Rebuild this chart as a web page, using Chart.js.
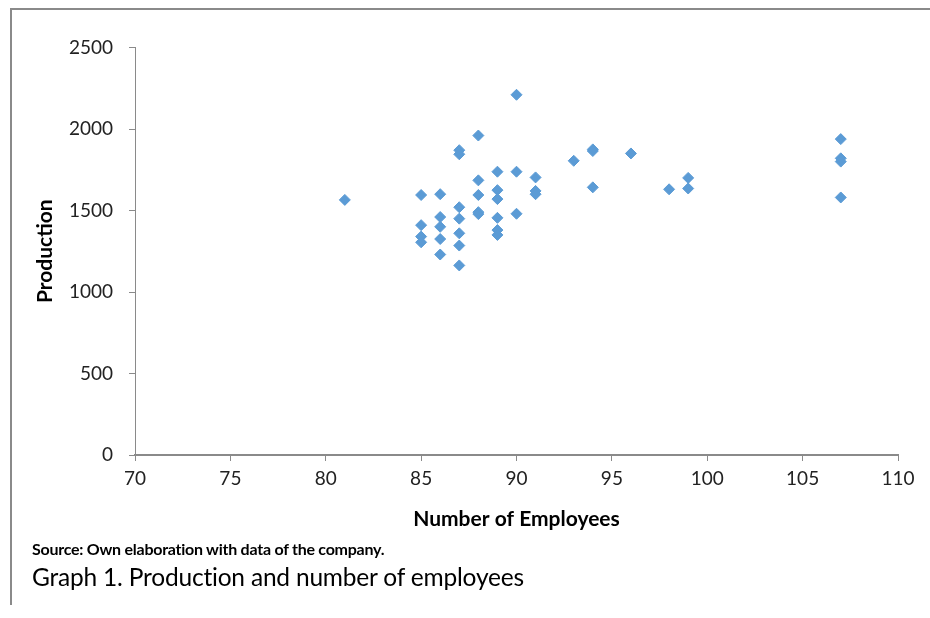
<!DOCTYPE html>
<html>
<head>
<meta charset="utf-8">
<script src="https://cdn.jsdelivr.net/npm/chart.js@4/dist/chart.umd.min.js"></script>
<style>
  html, body { margin: 0; padding: 0; background: #fff; }
  #wrap { position: relative; width: 930px; height: 618px; overflow: hidden; }
  #frame { position: absolute; left: 10px; top: 8px; width: 930px; height: 597px;
           border-left: 2px solid #8a8a8a; border-top: 2px solid #8a8a8a; box-sizing: border-box; }
  canvas { position: absolute; left: 0; top: 0; }
  .cap { position: absolute; left: 32px; color: #000; font-family: Lato, "Liberation Sans", sans-serif;
         white-space: nowrap; line-height: 1.2; }
  #source { top: 539px; font-size: 16px; font-weight: bold; letter-spacing: -0.25px; }
  #caption { top: 562px; font-size: 24.5px; letter-spacing: -0.2px; }
</style>
</head>
<body>
<div id="wrap">
  <div id="frame"></div>
  <canvas id="chart" width="930" height="618"></canvas>
  <div class="cap" id="source">Source: Own elaboration with data of the company.</div>
  <div class="cap" id="caption">Graph 1. Production and number of employees</div>
</div>
<script>
// Number of employees and monthly production, one entry per observation
const employees  = [81, 85, 85, 85, 85, 86, 86, 86, 86, 86,
                    87, 87, 87, 87, 87, 87, 87, 88, 88, 88, 88, 88,
                    89, 89, 89, 89, 89, 89, 90, 90, 90, 91, 91, 91,
                    93, 94, 94, 94, 96, 98, 99, 99, 107, 107, 107, 107];
const production = [1565, 1595, 1410, 1340, 1305, 1600, 1460, 1400, 1325, 1230,
                    1870, 1845, 1520, 1450, 1360, 1285, 1163, 1960, 1685, 1595, 1490, 1478,
                    1738, 1625, 1570, 1455, 1380, 1350, 2210, 1738, 1480, 1703, 1620, 1600,
                    1805, 1875, 1865, 1642, 1850, 1630, 1700, 1635, 1938, 1820, 1800, 1580];

// Axis ranges and tick spacing
const xTicks = { min: 70, max: 110, step: 5 };
const yTicks = { min: 0, max: 2500, step: 500 };

const points = employees.map((x, i) => ({ x: x, y: production[i] }));

const axisColor = '#8a8a8a';
const tickFont = { family: 'Lato, "Liberation Sans", sans-serif', size: 19 };
const titleFont = { family: 'Lato, "Liberation Sans", sans-serif', size: 21, weight: 'bold', lineHeight: 1.2 };

new Chart(document.getElementById('chart'), {
  type: 'scatter',
  data: {
    datasets: [{
      label: 'Production',
      data: points,
      pointStyle: 'rectRot',
      pointRadius: 5.5,
      pointBorderWidth: 1,
      backgroundColor: '#5b9bd5',
      borderColor: '#5b9bd5'
    }]
  },
  options: {
    responsive: false,
    animation: false,
    layout: { padding: { left: 32.4, top: 47.5, right: 32, bottom: 86.4 } },
    plugins: { legend: { display: false }, tooltip: { enabled: false } },
    scales: {
      x: {
        type: 'linear',
        min: xTicks.min, max: xTicks.max,
        afterFit: s => { s.height = 76.6; },
        border: { color: axisColor, width: 2 },
        grid: { drawOnChartArea: false, drawTicks: true, tickLength: 6, color: axisColor },
        ticks: { stepSize: xTicks.step, color: '#222', font: tickFont, padding: 6 },
        title: { display: true, text: 'Number of Employees', color: '#000', font: titleFont, padding: 0 }
      },
      y: {
        type: 'linear',
        min: yTicks.min, max: yTicks.max,
        afterFit: s => { s.width = 102.6; },
        border: { color: axisColor, width: 1 },
        grid: { drawOnChartArea: false, drawTicks: true, tickLength: 6, color: axisColor },
        ticks: { stepSize: yTicks.step, color: '#222', font: tickFont, padding: 16,
                 callback: v => String(v) },
        title: { display: true, text: 'Production', color: '#000', font: titleFont, padding: 0 }
      }
    }
  }
});
</script>
</body>
</html>
